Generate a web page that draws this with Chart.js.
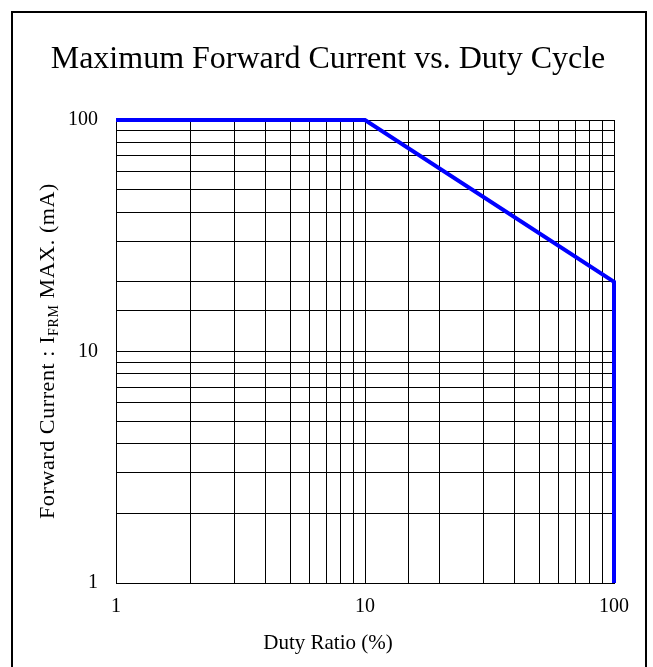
<!DOCTYPE html>
<html>
<head>
<meta charset="utf-8">
<script src="https://cdn.jsdelivr.net/npm/chart.js@4"></script>
<style>
html,body{margin:0;padding:0;background:#fff;}
#wrap{width:653px;height:667px;}
</style>
</head>
<body>
<div id="wrap"><canvas id="c" width="653" height="667"></canvas></div>
<script>
// Data
const dutyRatio = [1, 10, 100, 100];          // %
const forwardCurrent = [100, 100, 20, 1];     // mA
const xTickLabels = [1, 10, 100];
const yTickLabels = [1, 10, 100];
const chartTitle = "Maximum Forward Current vs. Duty Cycle";
const xTitle = "Duty Ratio (%)";
const yTitleParts = ["Forward Current : I", "FRM", " MAX. (mA)"];

const SERIF = "'Liberation Serif', 'Times New Roman', serif";

const decor = {
  id: 'decor',
  afterDraw(chart) {
    const ctx = chart.ctx;
    ctx.save();
    // outer frame
    ctx.strokeStyle = '#000';
    ctx.lineWidth = 2;
    ctx.strokeRect(12, 12, 634, 700);
    // title
    ctx.fillStyle = '#000';
    ctx.font = '32px ' + SERIF;
    ctx.textAlign = 'center';
    ctx.textBaseline = 'alphabetic';
    ctx.fillText(chartTitle, 328, 68);
    // x title
    ctx.font = '21px ' + SERIF;
    ctx.fillText(xTitle, 328, 649);
    // y title with subscript
    ctx.translate(54, 351);
    ctx.rotate(-Math.PI / 2);
    const big = '22px ' + SERIF, small = '14px ' + SERIF;
    try { ctx.letterSpacing = '0.6px'; } catch (e) {}
    ctx.font = big; const w0 = ctx.measureText(yTitleParts[0]).width;
    ctx.font = small; const w1 = ctx.measureText(yTitleParts[1]).width;
    ctx.font = big; const w2 = ctx.measureText(yTitleParts[2]).width;
    let x = -(w0 + w1 + w2) / 2;
    ctx.textAlign = 'left';
    ctx.font = big; ctx.fillText(yTitleParts[0], x, 0); x += w0;
    ctx.font = small; ctx.fillText(yTitleParts[1], x, 4); x += w1;
    ctx.font = big; ctx.fillText(yTitleParts[2], x, 0);
    ctx.restore();
  }
};

new Chart(document.getElementById('c'), {
  type: 'line',
  data: {
    datasets: [{
      data: dutyRatio.map((d, i) => ({x: d, y: forwardCurrent[i]})),
      borderColor: '#0000FF',
      borderWidth: 4,
      pointRadius: 0,
      tension: 0,
      fill: false,
      clip: 4
    }]
  },
  options: {
    responsive: false,
    animation: false,
    devicePixelRatio: 1,
    layout: { padding: { top: 120, right: 39, left: 0, bottom: 0 } },
    plugins: { legend: { display: false }, title: { display: false }, tooltip: { enabled: false } },
    scales: {
      x: {
        type: 'logarithmic',
        min: 1, max: 100,
        afterFit(s) { s.height = 84; },
        grid: { color: '#000', lineWidth: 1, drawTicks: false },
        border: { color: '#000', width: 1 },
        ticks: {
          autoSkip: false, maxRotation: 0, padding: 12, color: '#000',
          font: { family: SERIF, size: 20 },
          callback: (v) => xTickLabels.includes(v) ? String(v) : ''
        }
      },
      y: {
        type: 'logarithmic',
        min: 1, max: 100,
        afterFit(s) { s.width = 116; },
        grid: { color: '#000', lineWidth: 1, drawTicks: false },
        border: { color: '#000', width: 1 },
        ticks: {
          autoSkip: false, padding: 18, color: '#000',
          font: { family: SERIF, size: 20 },
          callback: (v) => yTickLabels.includes(v) ? String(v) : ''
        }
      }
    }
  },
  plugins: [decor]
});
</script>
</body>
</html>
